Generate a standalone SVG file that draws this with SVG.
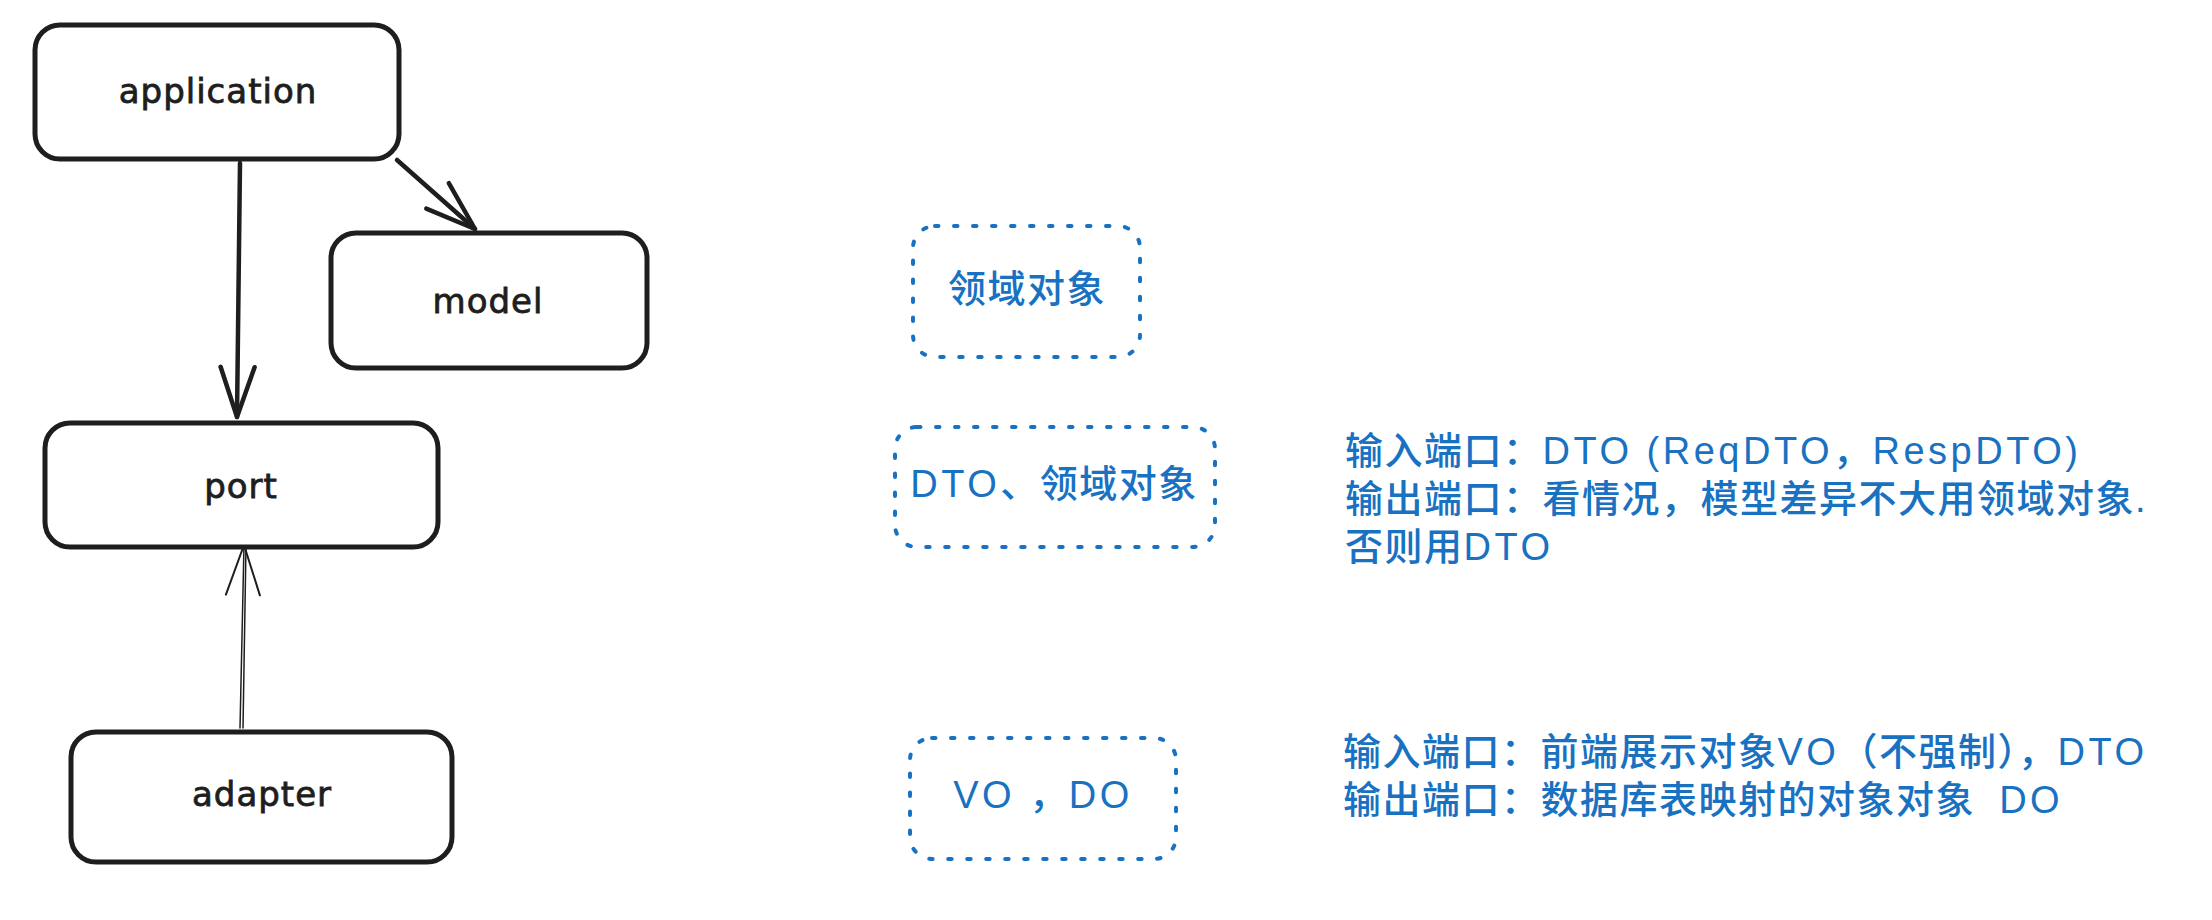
<svg xmlns="http://www.w3.org/2000/svg" width="2212" height="920" viewBox="0 0 2212 920">
<style>
.box{fill:#ffffff;stroke:#1e1e1e;stroke-width:5;stroke-linejoin:round}
.dot{fill:none;stroke:#1971c2;stroke-width:4;stroke-dasharray:3.5 15.5;stroke-linecap:round}
.lbl{font-family:"DejaVu Sans","Liberation Sans",sans-serif;font-size:34px;letter-spacing:1px;fill:#1e1e1e;stroke:#1e1e1e;stroke-width:0.8px;text-anchor:middle}
.blue{font-family:"Liberation Sans","Noto Sans CJK SC",sans-serif;font-size:38px;font-weight:500;letter-spacing:1.5px;fill:#1971c2}
.lat{letter-spacing:3.5px}
.mid{text-anchor:middle}
.edge{fill:none;stroke:#1e1e1e;stroke-linecap:round;stroke-linejoin:round}
</style>
<defs>
<marker id="headThick" markerUnits="userSpaceOnUse" viewBox="-55 -22 60 44" refX="0" refY="0" markerWidth="60" markerHeight="44" orient="auto">
<path d="M-50,-17 L0,0 L-50,17" fill="none" stroke="#1e1e1e" stroke-width="4.5" stroke-linecap="round" stroke-linejoin="round"/>
</marker>
<marker id="headThin" markerUnits="userSpaceOnUse" viewBox="-55 -22 60 44" refX="0" refY="0" markerWidth="60" markerHeight="44" orient="auto">
<path d="M-50,-17 L0,0 L-50,17" fill="none" stroke="#1e1e1e" stroke-width="2" stroke-linecap="round" stroke-linejoin="round"/>
</marker>
</defs>
<rect width="2212" height="920" fill="#ffffff"/>

<g id="connectors">
<path class="edge" d="M240,163 L237,417" stroke-width="4.5" marker-end="url(#headThick)"/>
<path class="edge" d="M397,160 L475,229" stroke-width="4.5" marker-end="url(#headThick)"/>
<path class="edge" d="M240,728 L244,545" stroke-width="1.5" marker-end="url(#headThin)"/>
<path class="edge" d="M243,728 L246,545" stroke-width="1.5"/>
</g>

<g id="application">
<rect class="box" x="35" y="25" width="364" height="134" rx="25"/>
<text class="lbl" x="218" y="103">application</text>
</g>

<g id="model">
<rect class="box" x="331" y="233" width="316" height="135" rx="25"/>
<text class="lbl" x="488" y="313">model</text>
</g>

<g id="port">
<rect class="box" x="45" y="423" width="393" height="124" rx="25"/>
<text class="lbl" x="241" y="498">port</text>
</g>

<g id="adapter">
<rect class="box" x="71" y="732" width="381" height="130" rx="25"/>
<text class="lbl" x="262" y="806">adapter</text>
</g>

<g id="domain-object">
<rect class="dot" x="913" y="226" width="227" height="131" rx="22"/>
<text class="blue mid" x="1027" y="302">领域对象</text>
</g>

<g id="dto-domain">
<rect class="dot" x="895" y="427" width="320" height="120" rx="22"/>
<text class="blue mid" x="1054" y="497"><tspan class="lat">DTO</tspan>、领域对象</text>
</g>

<g id="vo-do">
<rect class="dot" x="910" y="738" width="266" height="121" rx="22"/>
<text class="blue mid" x="1043" y="808"><tspan class="lat">VO </tspan>，<tspan class="lat">DO</tspan></text>
</g>

<g id="port-note">
<text class="blue" x="1345" y="464">输入端口：<tspan class="lat">DTO (ReqDTO</tspan>，<tspan class="lat">RespDTO)</tspan></text>
<text class="blue" x="1345" y="512">输出端口：看情况，模型差异不大用领域对象.</text>
<text class="blue" x="1345" y="560">否则用<tspan class="lat">DTO</tspan></text>
</g>

<g id="adapter-note">
<text class="blue" x="1343" y="765">输入端口：前端展示对象<tspan class="lat">VO</tspan>（不强制），<tspan class="lat">DTO</tspan></text>
<text class="blue" x="1343" y="813" xml:space="preserve">输出端口：数据库表映射的对象对象  <tspan class="lat">DO</tspan></text>
</g>
</svg>
